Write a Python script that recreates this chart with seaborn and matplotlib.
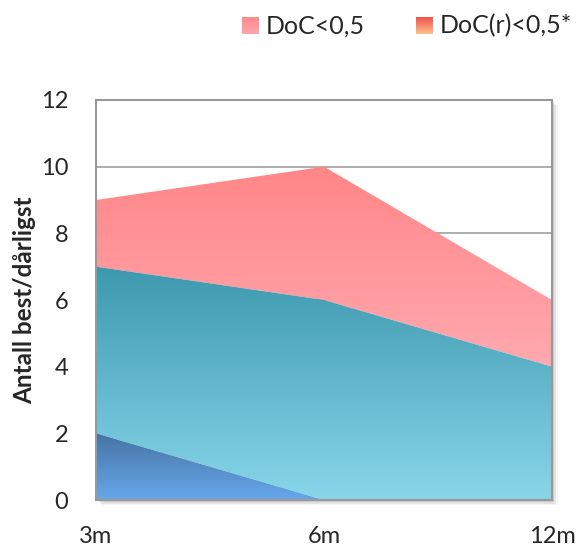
import numpy as np
import pandas as pd
import seaborn as sns
import matplotlib.pyplot as plt
from matplotlib.colors import LinearSegmentedColormap
from matplotlib.patches import Rectangle

# Data
periods = ["3m", "6m", "12m"]
doc_r_low = [2, 0, 0]        # bottom layer
doc_mid = [5, 6, 4]          # middle layer
doc_low = [2, 4, 2]          # top layer (DoC<0,5)
y_ticks = [0, 2, 4, 6, 8, 10, 12]
y_label = "Antall best/dårligst"
legend_labels = ["DoC<0,5", "DoC(r)<0,5*"]

sns.set_style("white")
plt.rcParams["font.family"] = ["Lato", "DejaVu Sans"]

df = pd.DataFrame({"period": periods, "a": doc_r_low, "b": doc_mid, "c": doc_low})
df["x"] = np.arange(len(df))
df["s1"] = df["a"]
df["s2"] = df["s1"] + df["b"]
df["s3"] = df["s2"] + df["c"]

fig = plt.figure(figsize=(5.77, 5.47), dpi=100)
ax = fig.add_axes([0.1664, 0.0859, 0.7903, 0.7313])
ax.set_xlim(0, len(df) - 1)
ax.set_ylim(0, 12)

# gridlines
for t in y_ticks[1:-1]:
    ax.axhline(t, color="#a0a0a0", lw=1.2, zorder=0)

def gradient_fill(lower, upper, top_color, bottom_color, ymin, ymax):
    poly = ax.fill_between(df["x"], lower, upper, color="none", lw=0, zorder=2)
    cmap = LinearSegmentedColormap.from_list("g", [bottom_color, top_color])
    grad = np.linspace(0, 1, 256).reshape(-1, 1)
    im = ax.imshow(grad, cmap=cmap, aspect="auto", origin="lower",
                   extent=[0, len(df) - 1, ymin, ymax], zorder=2,
                   interpolation="bicubic")
    path = poly.get_paths()[0]
    im.set_clip_path(path, transform=ax.transData)

gradient_fill(df["s2"], df["s3"], "#ff8688", "#ffa9b0", 4, 10)
gradient_fill(df["s1"], df["s2"], "#3d98ae", "#88d6ea", 0, 7)
gradient_fill(0, df["s1"], "#4673a4", "#67a8ea", 0, 2)

# top edge of the stack through seaborn (zero width, keeps the data tied)
sns.lineplot(x=df["x"], y=df["s3"], ax=ax, color="#ff8688", lw=0, legend=False)

ax.set_xticks(df["x"])
ax.set_xticklabels(periods, fontsize=17)
ax.set_yticks(y_ticks)
ax.set_yticklabels([str(t) for t in y_ticks], fontsize=17)
ax.tick_params(axis="x", pad=19, length=0)
ax.tick_params(axis="y", pad=20, length=0)
ax.set_xlabel("")
ax.set_ylabel(y_label, fontsize=17.5, fontweight="bold", labelpad=3)
for s in ax.spines.values():
    s.set_color("#999999")
    s.set_linewidth(1.5)
    s.set_zorder(5)

# drop shadow behind plot area
for i, a in enumerate([0.10, 0.07, 0.04]):
    off = 0.004 + i * 0.003
    fig.patches.append(Rectangle((0.1664 + off, 0.0859 - off), 0.7903, 0.7313,
                                 transform=fig.transFigure, facecolor="black",
                                 alpha=a, zorder=-1, lw=0))
ax.set_facecolor("white")

# legend
def legend_entry(x, label, c_top, c_bot):
    lax = fig.add_axes([x / 577, 1 - 34 / 547, 17 / 577, 17 / 547])
    grad = np.linspace(0, 1, 64).reshape(-1, 1)
    lax.imshow(grad, cmap=LinearSegmentedColormap.from_list("l", [c_bot, c_top]),
               aspect="auto", origin="lower")
    lax.axis("off")
    fig.text((x + 24) / 577, 1 - 26 / 547, label, fontsize=18, va="center", ha="left")

legend_entry(242, legend_labels[0], "#ff8a8c", "#ffa5ac")
legend_entry(416, legend_labels[1], "#f0524a", "#fcc08e")

fig.savefig("out.png", dpi=100)
